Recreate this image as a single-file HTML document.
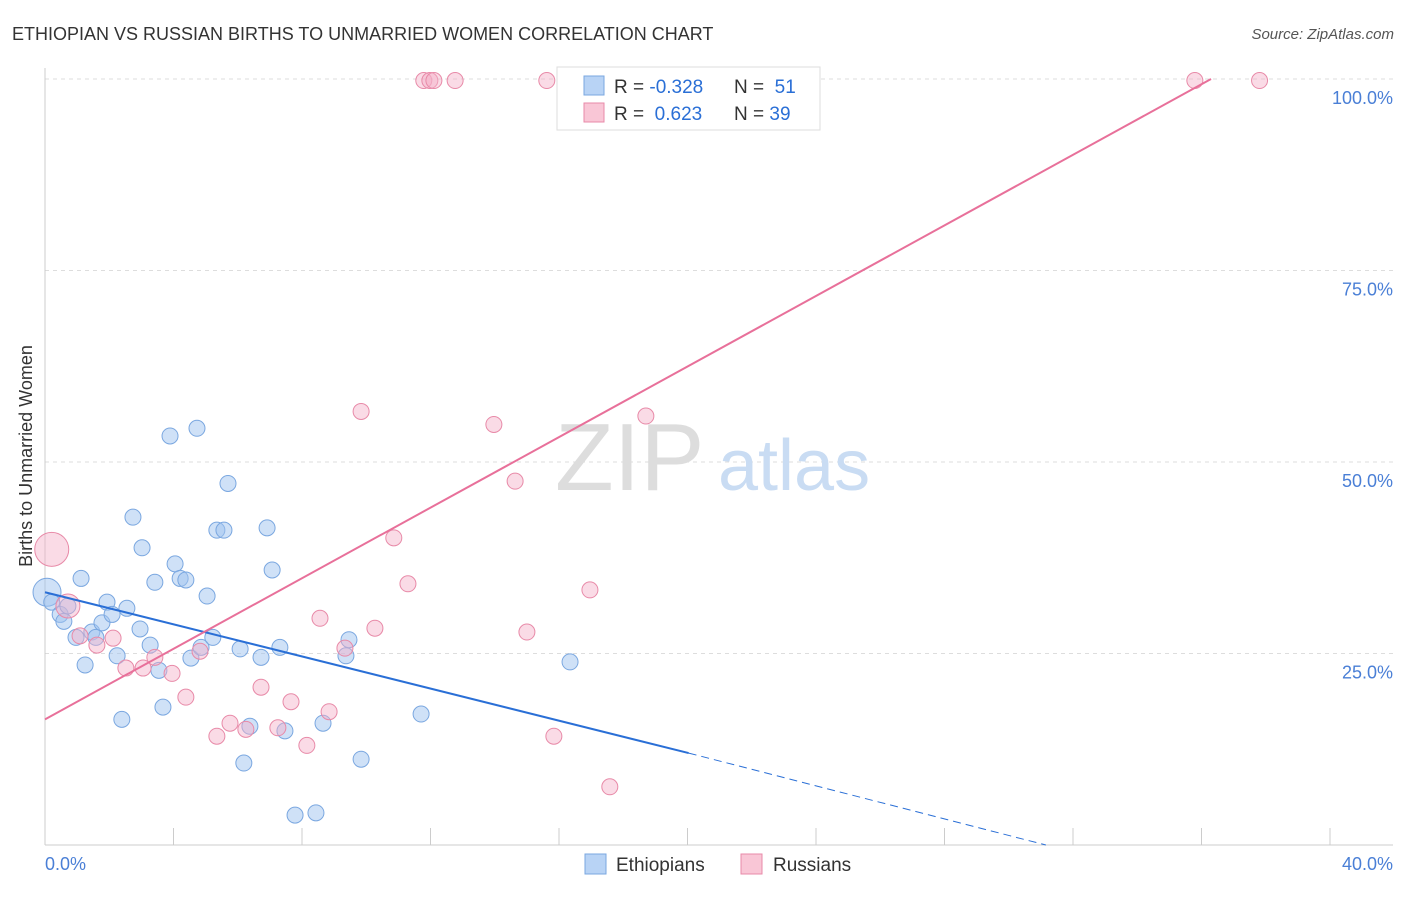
<!DOCTYPE html>
<html><head><meta charset="utf-8"><style>
body{margin:0;background:#fff;font-family:"Liberation Sans",sans-serif}
svg text{font-family:"Liberation Sans",sans-serif}
</style></head><body>
<svg width="1406" height="892" xmlns="http://www.w3.org/2000/svg">
<text x="12" y="40" font-size="18" fill="#333">ETHIOPIAN VS RUSSIAN BIRTHS TO UNMARRIED WOMEN CORRELATION CHART</text>
<text x="1394" y="39" font-size="15" fill="#555" text-anchor="end" font-style="italic">Source: ZipAtlas.com</text>
<g id="grid"></g>
<text x="555" y="490" font-size="96" fill="#ddd" font-family="Liberation Serif">ZIP</text>
<text x="718" y="490" font-size="72" fill="#c9dcf3">atlas</text>
<text x="32" y="456" font-size="18" fill="#333" text-anchor="middle" transform="rotate(-90 32 456)">Births to Unmarried Women</text>
<g id="marks"></g>
<g>
<rect x="557" y="67" width="263" height="63" fill="#fff" stroke="#ddd"/>
<rect x="584" y="76" width="20" height="19" fill="#b8d3f5" stroke="#7aa7e0"/>
<rect x="584" y="103" width="20" height="19" fill="#f9c6d6" stroke="#e88aa8"/>
<text x="614" y="93" font-size="19" fill="#333">R = <tspan fill="#2a6fd6">-0.328</tspan><tspan x="734">N = </tspan><tspan fill="#2a6fd6">&#160;51</tspan></text>
<text x="614" y="120" font-size="19" fill="#333">R = <tspan fill="#2a6fd6">&#160;0.623</tspan><tspan x="734">N = </tspan><tspan fill="#2a6fd6">39</tspan></text>
</g>
<g>
<rect x="585" y="854" width="21" height="20" fill="#b8d3f5" stroke="#7aa7e0"/>
<text x="616" y="871" font-size="19" fill="#333">Ethiopians</text>
<rect x="741" y="854" width="21" height="20" fill="#f9c6d6" stroke="#e88aa8"/>
<text x="773" y="871" font-size="19" fill="#333">Russians</text>
</g>
</svg>
<script>
const yTicks=[25,50,75,100];
const yTickLabels=["25.0%","50.0%","75.0%","100.0%"];
const xTickLabels=["0.0%","40.0%"];
const ethX=[0.06,0.2,0.45,0.56,0.68,0.92,1.07,1.19,1.39,1.51,1.69,1.84,1.99,2.14,2.28,2.43,2.61,2.82,2.88,3.12,3.26,3.38,3.50,3.71,3.86,4.01,4.18,4.33,4.51,4.63,4.81,4.98,5.10,5.31,5.43,5.79,5.90,6.08,6.41,6.59,6.74,6.97,7.12,7.42,8.04,8.25,8.93,9.02,9.38,11.16,15.58];
const ethY=[33.0,31.7,30.1,29.2,31.2,27.1,34.8,23.5,27.8,27.1,29.0,31.7,30.1,24.7,16.4,30.9,42.8,28.2,38.8,26.1,34.3,22.8,18.0,53.4,36.7,34.8,34.6,24.4,54.4,25.8,32.5,27.1,41.1,41.1,47.2,25.6,10.7,15.5,24.5,41.4,35.9,25.8,14.9,3.9,4.2,15.9,24.7,26.8,11.2,17.1,23.9];
const rusX=[0.2,0.68,1.04,1.54,2.02,2.40,2.91,3.26,3.77,4.18,4.60,5.10,5.49,5.96,6.41,6.91,7.30,7.77,8.16,8.43,8.90,9.38,9.79,10.35,10.77,11.24,11.42,11.54,12.17,13.32,13.95,14.30,14.89,15.10,16.17,16.76,17.83,34.12,36.04];
const rusY=[38.6,31.2,27.3,26.1,27.0,23.1,23.1,24.5,22.4,19.3,25.3,14.2,15.9,15.1,20.6,15.3,18.7,13.0,29.6,17.4,25.7,56.6,28.3,40.1,34.1,99.8,99.8,99.8,99.8,54.9,47.5,27.8,99.8,14.2,33.3,7.6,56.0,99.8,99.8];
const ethTrend=[[0,33.0],[19.1,12.0],[29.7,0]];
const rusTrend=[[0,16.4],[34.6,100]];
const NS="http://www.w3.org/2000/svg";
const X=v=>45+v/40*1348, Y=v=>845-v/100*766;
function mk(t,a,p){const e=document.createElementNS(NS,t);for(const k in a)e.setAttribute(k,a[k]);p.appendChild(e);return e;}
const g=document.getElementById('grid'),m=document.getElementById('marks');
yTicks.forEach((t,i)=>{const l=mk('line',{x1:45,x2:1393,y1:Y(t),y2:Y(t),stroke:'#ddd','stroke-dasharray':'4,4'},g);

const tx=mk('text',{x:1393,y:Y(t)+25,'font-size':18,fill:'#4a7fd6','text-anchor':'end'},g);tx.textContent=yTickLabels[i];
});
const ax=mk('line',{x1:45,x2:45,y1:68,y2:845,stroke:'#ccc'},g);
const bx=mk('line',{x1:45,x2:1393,y1:845,y2:845,stroke:'#ccc'},g);
for(let i=0;i<=10;i++){const t=mk('line',{x1:45+i*128.5,x2:45+i*128.5,y1:828,y2:845,stroke:'#ccc'},g);}
const xl0=mk('text',{x:45,y:870,'font-size':18,fill:'#4a7fd6'},g);xl0.textContent=xTickLabels[0];
const xl1=mk('text',{x:1393,y:870,'font-size':18,fill:'#4a7fd6','text-anchor':'end'},g);xl1.textContent=xTickLabels[1];
ethX.forEach((x,i)=>{const c=mk('circle',{cx:X(x),cy:Y(ethY[i]),r:i==0?14:8,fill:'rgba(160,195,240,0.5)',stroke:'#7aa7e0','stroke-width':1},m);
});
rusX.forEach((x,i)=>{const c=mk('circle',{cx:X(x),cy:Y(rusY[i]),r:i==0?17:(i==1?12:8),fill:'rgba(245,175,200,0.45)',stroke:'#e88aa8','stroke-width':1},m);
});
let l1=mk('line',{x1:X(ethTrend[0][0]),y1:Y(ethTrend[0][1]),x2:X(ethTrend[1][0]),y2:Y(ethTrend[1][1]),stroke:'#2a6fd6','stroke-width':2},m);

let l2=mk('line',{x1:X(ethTrend[1][0]),y1:Y(ethTrend[1][1]),x2:X(ethTrend[2][0]),y2:Y(ethTrend[2][1]),stroke:'#2a6fd6','stroke-width':1,'stroke-dasharray':'8,5'},m);

let l3=mk('line',{x1:X(rusTrend[0][0]),y1:Y(rusTrend[0][1]),x2:X(rusTrend[1][0]),y2:Y(rusTrend[1][1]),stroke:'#e8709a','stroke-width':2},m);

</script>
</body></html>
